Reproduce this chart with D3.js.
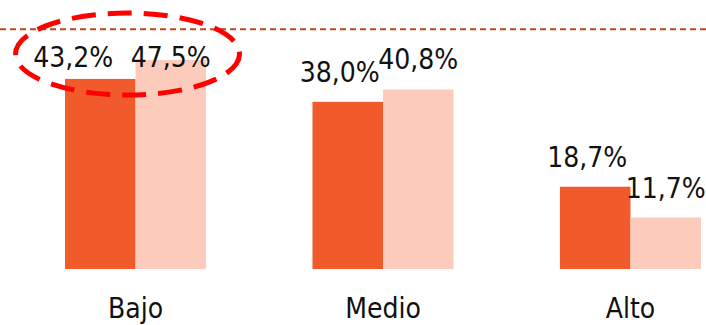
<!DOCTYPE html>
<html>
<head>
<meta charset="utf-8">
<script src="https://cdn.jsdelivr.net/npm/d3@7"></script>
<style>
  body { margin: 0; background: #fff; }
  svg { display: block; }
  text { font-family: "DejaVu Sans Condensed", "Liberation Sans Narrow", sans-serif; fill: #111; }
</style>
</head>
<body>
<svg id="chart" width="706" height="325"></svg>
<script>
// data
var categories = ["Bajo", "Medio", "Alto"];
var seriesNames = ["Serie 1", "Serie 2"];
var serie1 = [43.2, 38.0, 18.7];
var serie2 = [47.5, 40.8, 11.7];
var refValue = 54.5;
var colors = ["#f15a2b", "#fccbbb"];

var svg = d3.select("#chart");
var width = +svg.attr("width");
var height = +svg.attr("height");

var x0 = d3.scaleBand().domain(categories).range([65, 701]).paddingInner(0.43).paddingOuter(0);
var x1 = d3.scaleBand().domain([0, 1]).range([0, x0.bandwidth()]);
var y = d3.scaleLinear().domain([0, 61.14]).range([269, 0]);

var fmt = function (v) { return d3.format(".1f")(v).replace(".", ",") + "%"; };

var rows = categories.map(function (c, i) {
  return { cat: c, vals: [serie1[i], serie2[i]] };
});

// reference line
svg.append("line")
  .attr("x1", 0).attr("x2", width)
  .attr("y1", y(refValue)).attr("y2", y(refValue))
  .attr("stroke", "#c4461f")
  .attr("stroke-width", 2)
  .attr("stroke-dasharray", "6,4");

var groups = svg.append("g").selectAll("g")
  .data(rows).enter().append("g")
  .attr("transform", function (d) { return "translate(" + x0(d.cat) + ",0)"; });

groups.selectAll("rect")
  .data(function (d) { return d.vals; })
  .enter().append("rect")
  .attr("x", function (d, i) { return x1(i); })
  .attr("width", x1.bandwidth())
  .attr("y", function (d) { return y(d); })
  .attr("height", function (d) { return y(0) - y(d); })
  .attr("fill", function (d, i) { return colors[i]; });

groups.selectAll("text.val")
  .data(function (d) { return d.vals; })
  .enter().append("text")
  .attr("class", "val")
  .attr("text-anchor", "middle")
  .attr("font-size", 28)
  .attr("x", function (d, i) {
    var cx = x1(i) + x1.bandwidth() / 2;
    var clamped = y(d) - 20 < 66;
    if (i === 0) return cx - (clamped ? 27 : 8);
    return cx;
  })
  .attr("y", function (d) { return Math.max(y(d) - 20, 67); })
  .text(fmt);

// category labels
svg.append("g").selectAll("text")
  .data(categories).enter().append("text")
  .attr("text-anchor", "middle")
  .attr("font-size", 28)
  .attr("x", function (d) { return x0(d) + x0.bandwidth() / 2; })
  .attr("y", 318)
  .text(function (d) { return d; });

// highlight ellipse around first category labels
svg.append("ellipse")
  .attr("cx", x0("Bajo") + x0.bandwidth() / 2 - 8)
  .attr("cy", 54)
  .attr("rx", 112)
  .attr("ry", 41)
  .attr("fill", "none")
  .attr("stroke", "#ff0000")
  .attr("stroke-width", 5)
  .attr("stroke-dasharray", "24,12");
</script>
</body>
</html>
